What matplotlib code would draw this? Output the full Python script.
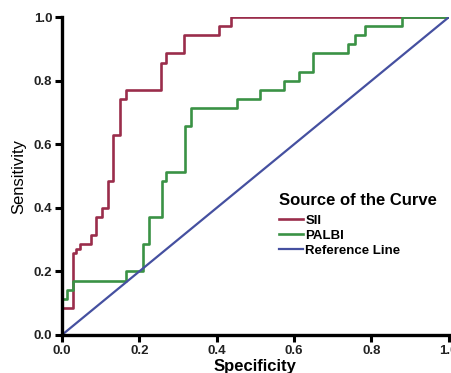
import matplotlib
matplotlib.use('Agg')
import matplotlib.pyplot as plt

plt.rcParams['font.family'] = ['Liberation Sans', 'DejaVu Sans']

# ROC curve vertices (1 - specificity, sensitivity)
sii_fpr = [0.0, 0.0, 0.029, 0.037, 0.046, 0.076, 0.087, 0.104, 0.118, 0.133,
           0.149, 0.166, 0.256, 0.270, 0.316, 0.406, 0.437, 1.0]
sii_tpr = [0.0, 0.086, 0.257, 0.271, 0.286, 0.314, 0.371, 0.400, 0.486, 0.629,
           0.743, 0.771, 0.857, 0.886, 0.943, 0.971, 1.0, 1.0]

palbi_fpr = [0.0, 0.0, 0.012, 0.028, 0.165, 0.210, 0.225, 0.258, 0.270, 0.318,
             0.333, 0.453, 0.513, 0.574, 0.613, 0.649, 0.740, 0.757, 0.783,
             0.878, 1.0]
palbi_tpr = [0.0, 0.114, 0.143, 0.171, 0.200, 0.286, 0.371, 0.486, 0.514, 0.657,
             0.714, 0.743, 0.771, 0.800, 0.829, 0.886, 0.914, 0.943, 0.971,
             1.0, 1.0]

ref_x = [0.0, 1.0]
ref_y = [0.0, 1.0]

ticks = [0.0, 0.2, 0.4, 0.6, 0.8, 1.0]
tick_labels = ['0.0', '0.2', '0.4', '0.6', '0.8', '1.0']

fig = plt.figure(figsize=(4.52, 3.73), dpi=100)
ax = fig.add_axes([0.137, 0.102, 0.856, 0.852])

ax.plot(sii_fpr, sii_tpr, drawstyle='steps-post', color='#9a2d4b', lw=1.9, label='SII')
ax.plot(palbi_fpr, palbi_tpr, drawstyle='steps-post', color='#3a9245', lw=1.9, label='PALBI')
ax.plot(ref_x, ref_y, color='#4550a0', lw=1.6, label='Reference Line')

ax.set_xlim(0, 1)
ax.set_ylim(0, 1)
ax.set_xticks(ticks)
ax.set_yticks(ticks)
ax.set_xticklabels(tick_labels, fontsize=9.5, fontweight='bold', color='#222222')
ax.set_yticklabels(tick_labels, fontsize=9.5, fontweight='bold', color='#222222')
ax.tick_params(direction='out', length=5, width=2.2, pad=2)

for s in ['top', 'right']:
    ax.spines[s].set_visible(False)
for s in ['left', 'bottom']:
    ax.spines[s].set_linewidth(2.4)

ax.set_xlabel('Specificity', fontsize=12, fontweight='bold', labelpad=2)
ax.set_ylabel('Sensitivity', fontsize=12, labelpad=5)

leg = ax.legend(loc='upper left', bbox_to_anchor=(0.617, 0.483), bbox_transform=fig.transFigure,
                frameon=False, title='Source of the Curve', alignment='left',
                title_fontproperties={'size': 12, 'weight': 'bold'},
                prop={'size': 9.5, 'weight': 'bold'}, handlelength=1.8,
                handletextpad=0.2, labelspacing=0.2, borderpad=0, borderaxespad=0)
leg._legend_box.sep = 5

fig.savefig('out.png', dpi=100)
